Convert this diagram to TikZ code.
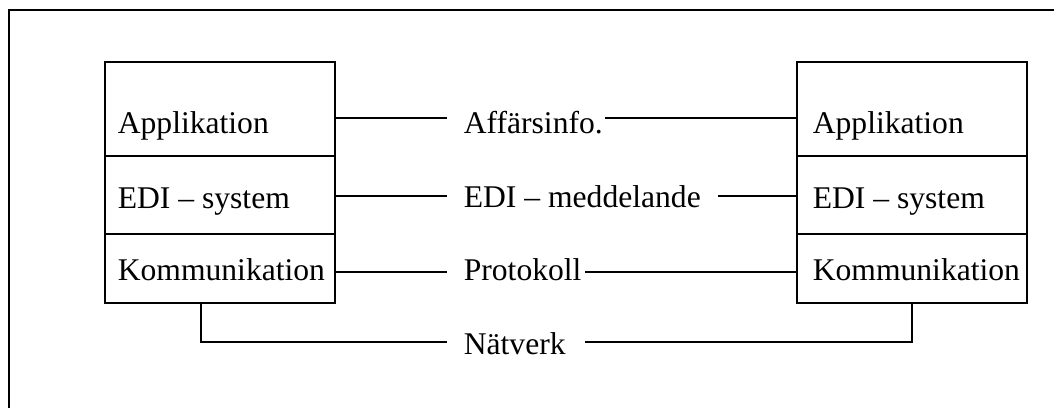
\documentclass[tikz,border=0pt]{standalone}
\usepackage{fontspec}
\setmainfont{Liberation Serif}
\begin{document}
\begin{tikzpicture}[x=1pt,y=-1pt,line width=1.7pt,
  cell/.style={draw,anchor=north west,minimum width=230pt,inner sep=0pt,outer sep=0pt},
  txt/.style={anchor=base west,inner sep=0pt,font=\fontsize{31.6}{38}\selectfont}]
\useasboundingbox (0,0) rectangle (1054,407);
\clip (0,0) rectangle (1054,407);
\draw (9,10) rectangle (1080,430);
% left stack
\node[cell,minimum height=94pt] (l1) at (105,62) {};
\node[cell,minimum height=78pt] (l2) at (105,156) {};
\node[cell,minimum height=69pt] (l3) at (105,234) {};
% right stack
\node[cell,minimum height=94pt] (r1) at (797,62) {};
\node[cell,minimum height=78pt] (r2) at (797,156) {};
\node[cell,minimum height=69pt] (r3) at (797,234) {};
% cell texts
\node[txt] (tl1) at (117,133) {Applikation};
\node[txt] (tl2) at (117,208) {EDI – system};
\node[txt] (tl3) at (117,280) {Kommunikation};
\node[txt] (tr1) at (812,133) {Applikation};
\node[txt] (tr2) at (812,208) {EDI – system};
\node[txt] (tr3) at (812,280) {Kommunikation};
% labels
\node[txt] (aff) at (463,133) {Affärsinfo.};
\node[txt] (edi) at (463,207) {EDI – meddelande};
\node[txt] (pro) at (463,280) {Protokoll};
\node[txt] (nat) at (463,354) {Nätverk};
% connector ends
\coordinate (a1) at (447,118); \coordinate (a2) at (605,118);
\coordinate (e1) at (447,196); \coordinate (e2) at (718,196);
\coordinate (p1) at (447,272); \coordinate (p2) at (585,272);
\coordinate (n0) at (201,342); \coordinate (n1) at (447,342);
\coordinate (n2) at (585,342); \coordinate (n3) at (912,342);
\draw (l1.east |- a1) -- (a1);
\draw (a2) -- (r1.west |- a2);
\draw (l2.east |- e1) -- (e1);
\draw (e2) -- (r2.west |- e2);
\draw (l3.east |- p1) -- (p1);
\draw (p2) -- (r3.west |- p2);
\draw (l3.south -| n0) -- (n0) -- (n1);
\draw (n2) -- (n3) -- (r3.south -| n3);
\end{tikzpicture}
\end{document}
